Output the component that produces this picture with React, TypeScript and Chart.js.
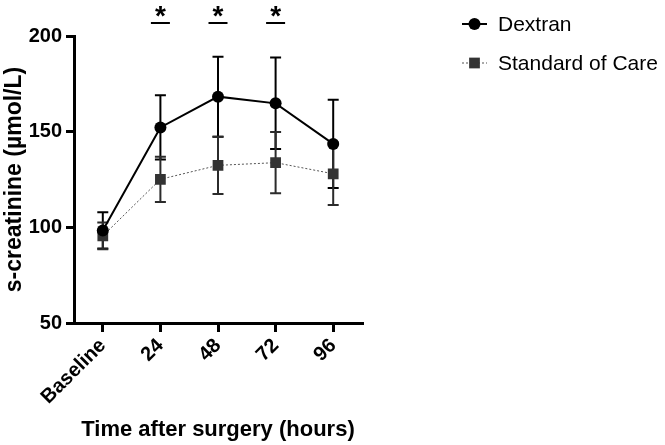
import { useEffect, useRef } from 'react';
import { Chart, registerables } from 'chart.js';

Chart.register(...registerables);

// Sampling times and group values (mean ± SD)
const timepoints = ['Baseline', '24', '48', '72', '96'];
const dextranMean = [98.4, 152.2, 168.3, 164.8, 143.6];
const dextranSd = [9.5, 16.8, 20.9, 23.9, 23.1];
const socMean = [95.5, 125.1, 132.4, 133.8, 128.0];
const socSd = [7.0, 11.8, 15.0, 16.0, 16.3];
// Time points with a significant group difference
const significantIdx = [1, 2, 3];
const yMin = 50;
const yMax = 200;
const yStep = 50;

const FONT = 'Arial, "Liberation Sans", Helvetica, sans-serif';
const sdSets = [dextranSd, socSd];
const errColors = ['#000000', '#2b2b2b'];

const errorBars = {
  id: 'errorBars',
  beforeDatasetsDraw(chart: any) {
    const { ctx } = chart;
    const y = chart.scales.y;
    ctx.save();
    chart.data.datasets.forEach((ds: any, i: number) => {
      const meta = chart.getDatasetMeta(i);
      const sd = sdSets[i];
      ctx.strokeStyle = errColors[i];
      ctx.lineWidth = 2;
      meta.data.forEach((pt: any, j: number) => {
        const v = ds.data[j];
        const top = y.getPixelForValue(v + sd[j]);
        const bot = y.getPixelForValue(v - sd[j]);
        const x = pt.x;
        const cap = 5.5;
        ctx.beginPath();
        ctx.moveTo(x, top);
        ctx.lineTo(x, bot);
        ctx.moveTo(x - cap, top);
        ctx.lineTo(x + cap, top);
        ctx.moveTo(x - cap, bot);
        ctx.lineTo(x + cap, bot);
        ctx.stroke();
      });
    });
    ctx.restore();
  },
};

const sigMarks = {
  id: 'sigMarks',
  afterDraw(chart: any) {
    const { ctx } = chart;
    const x = chart.scales.x;
    ctx.save();
    ctx.fillStyle = '#000';
    ctx.strokeStyle = '#000';
    ctx.lineWidth = 2;
    ctx.font = `bold 28px ${FONT}`;
    ctx.textAlign = 'center';
    ctx.textBaseline = 'alphabetic';
    significantIdx.forEach((idx) => {
      const px = x.getPixelForValue(idx);
      ctx.fillText('*', px, 25);
      ctx.beginPath();
      ctx.moveTo(px - 9.5, 23);
      ctx.lineTo(px + 9.5, 23);
      ctx.stroke();
    });
    ctx.restore();
  },
};

const legendBox = {
  id: 'legendBox',
  afterDraw(chart: any) {
    const { ctx } = chart;
    const rows = [
      { y: 24, ds: chart.data.datasets[0] },
      { y: 63, ds: chart.data.datasets[1] },
    ];
    const x0 = 462;
    const x1 = 487;
    const cx = (x0 + x1) / 2;
    ctx.save();
    rows.forEach(({ y, ds }) => {
      ctx.strokeStyle = ds.borderColor;
      ctx.lineWidth = ds.borderWidth;
      ctx.setLineDash(ds.borderDash || []);
      ctx.beginPath();
      ctx.moveTo(x0, y);
      ctx.lineTo(x1, y);
      ctx.stroke();
      ctx.setLineDash([]);
      ctx.fillStyle = ds.pointBackgroundColor;
      ctx.beginPath();
      if (ds.pointStyle === 'rect') {
        const half = ds.pointRadius * Math.SQRT1_2;
        ctx.rect(cx - half, y - half, half * 2, half * 2);
      } else {
        ctx.arc(cx, y, ds.pointRadius, 0, Math.PI * 2);
      }
      ctx.fill();
      ctx.fillStyle = '#000';
      ctx.font = `21px ${FONT}`;
      ctx.textAlign = 'left';
      ctx.textBaseline = 'middle';
      ctx.fillText(ds.label, 498, y + 1);
    });
    ctx.restore();
  },
};

export default function App() {
  const canvasRef = useRef<HTMLCanvasElement | null>(null);

  useEffect(() => {
    const canvas = canvasRef.current;
    if (!canvas) return;
    const axisFont = { family: FONT, size: 20, weight: 'bold' as const };
    const xTitleFont = { family: FONT, size: 22, weight: 'bold' as const };
    const yTitleFont = { family: FONT, size: 23, weight: 'bold' as const };
    const chart = new Chart(canvas, {
      type: 'line',
      data: {
        labels: timepoints,
        datasets: [
          {
            label: 'Dextran',
            data: dextranMean,
            borderColor: '#000000',
            backgroundColor: '#000000',
            borderWidth: 2,
            pointStyle: 'circle',
            pointRadius: 6,
            pointBackgroundColor: '#000000',
            pointBorderColor: '#000000',
            pointBorderWidth: 0,
            tension: 0,
          },
          {
            label: 'Standard of Care',
            data: socMean,
            borderColor: '#555555',
            backgroundColor: '#333333',
            borderWidth: 1,
            borderDash: [2, 2],
            pointStyle: 'rect',
            pointRadius: 7.6,
            pointBackgroundColor: '#333333',
            pointBorderColor: '#333333',
            pointBorderWidth: 0,
            tension: 0,
          },
        ],
      },
      options: {
        responsive: false,
        animation: false,
        events: [],
        layout: { padding: { top: 36, right: 303, bottom: 0, left: 0 } },
        plugins: {
          legend: { display: false },
          tooltip: { enabled: false },
        },
        scales: {
          x: {
            offset: true,
            grid: {
              display: true,
              drawOnChartArea: false,
              drawTicks: true,
              tickLength: 9,
              lineWidth: 3,
              color: '#000',
            },
            border: { display: true, width: 3, color: '#000' },
            ticks: {
              minRotation: 45,
              maxRotation: 45,
              font: axisFont,
              color: '#000',
              padding: 2,
            },
            title: {
              display: true,
              text: 'Time after surgery (hours)',
              font: xTitleFont,
              color: '#000',
              padding: { top: 0, bottom: 2 },
            },
            afterFit: (s: any) => {
              s.height = 122;
            },
          },
          y: {
            min: yMin,
            max: yMax,
            grid: {
              display: true,
              drawOnChartArea: false,
              drawTicks: true,
              tickLength: 8,
              lineWidth: 3,
              color: '#000',
            },
            border: { display: true, width: 3, color: '#000' },
            ticks: {
              stepSize: yStep,
              font: axisFont,
              color: '#000',
              padding: 4,
            },
            title: {
              display: true,
              text: 's-creatinine (µmol/L)',
              font: yTitleFont,
              color: '#000',
              padding: { top: 1, bottom: 0 },
            },
            afterFit: (s: any) => {
              s.width = 74;
            },
          },
        },
      },
      plugins: [errorBars, sigMarks, legendBox],
    });
    return () => chart.destroy();
  }, []);

  return (
    <div style={{ position: 'absolute', left: 0, top: 0, width: 665, height: 445, background: '#fff' }}>
      <canvas ref={canvasRef} width={665} height={445} />
    </div>
  );
}
